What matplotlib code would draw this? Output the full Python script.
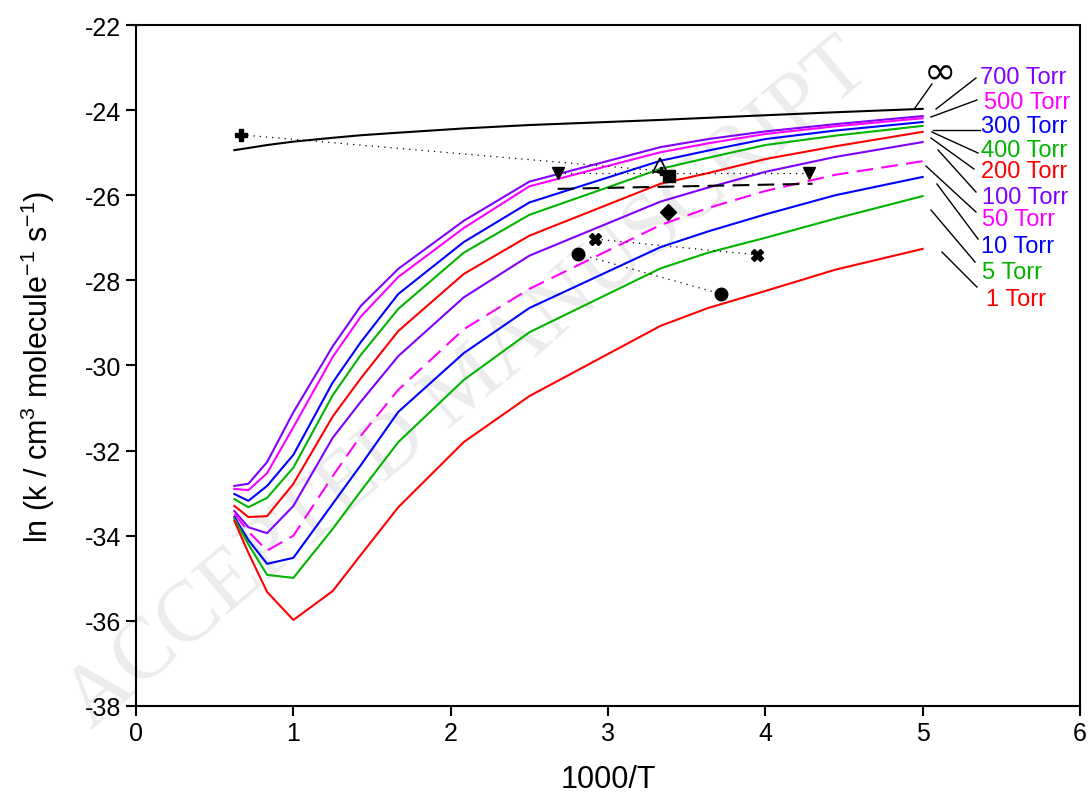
import matplotlib.pyplot as plt
import numpy as np

plt.rcParams['font.family'] = ['Liberation Sans', 'DejaVu Sans']
plt.rcParams['axes.unicode_minus'] = False
plt.rcParams['mathtext.fontset'] = 'custom'
plt.rcParams['mathtext.rm'] = 'Liberation Sans'
plt.rcParams['mathtext.it'] = 'Liberation Sans:italic'

# 1000/T grid of the computed curves
x_grid = [0.625, 0.714, 0.833, 1.0, 1.25, 1.429, 1.667, 2.083, 2.5, 3.333, 3.636, 4.0, 4.444, 5.0]

k_inf = [-24.94, -24.89, -24.82, -24.74, -24.65, -24.59, -24.53, -24.43, -24.35, -24.23, -24.18, -24.12, -24.05, -23.97]
k_700 = [-32.83, -32.78, -32.27, -31.1, -29.55, -28.6, -27.73, -26.6, -25.68, -24.87, -24.68, -24.5, -24.33, -24.14]
k_500 = [-32.9, -32.93, -32.53, -31.45, -29.8, -28.85, -27.92, -26.77, -25.79, -24.99, -24.78, -24.56, -24.38, -24.19]
k_300 = [-33.02, -33.18, -32.83, -32.1, -30.4, -29.45, -28.32, -27.1, -26.17, -25.19, -24.95, -24.68, -24.48, -24.28]
k_400 = [-33.14, -33.33, -33.11, -32.4, -30.7, -29.75, -28.67, -27.35, -26.46, -25.38, -25.12, -24.82, -24.6, -24.37]
k_200 = [-33.3, -33.56, -33.54, -32.78, -31.2, -30.3, -29.19, -27.85, -26.95, -25.73, -25.48, -25.15, -24.85, -24.51]
k_100 = [-33.42, -33.8, -33.94, -33.3, -31.7, -30.85, -29.78, -28.4, -27.42, -26.15, -25.82, -25.45, -25.1, -24.75]
k_50 = [-33.49, -33.9, -34.35, -34.0, -32.6, -31.65, -30.57, -29.15, -28.2, -26.7, -26.3, -25.9, -25.52, -25.2]
k_10 = [-33.56, -34.1, -34.66, -34.52, -33.25, -32.34, -31.09, -29.71, -28.65, -27.22, -26.85, -26.45, -26.0, -25.57]
k_5 = [-33.6, -34.2, -34.92, -34.99, -33.84, -32.95, -31.8, -30.34, -29.22, -27.72, -27.35, -27.0, -26.55, -26.02]
k_1 = [-33.65, -34.4, -35.32, -35.98, -35.3, -34.45, -33.33, -31.8, -30.72, -29.07, -28.65, -28.25, -27.75, -27.26]

# experimental points
plus_x, plus_y = [0.667, 3.34], [-24.58, -25.43]
tri_dn_x, tri_dn_y = [2.68, 4.28], [-25.48, -25.48]
tri_up_x, tri_up_y = [3.33], [-25.29]
sq_x, sq_y = [3.39], [-25.55]
dash_x, dash_y = [2.68, 4.3], [-25.85, -25.73]
dia_x, dia_y = [3.38], [-26.39]
cross_x, cross_y = [2.92, 3.95], [-27.03, -27.40]
circ_x, circ_y = [2.81, 3.72], [-27.38, -28.32]

purple = '#8000ff'
magenta = '#ff00ff'
blue = '#0000ff'
green = '#00b400'
red = '#ff0000'

labels = ['700 Torr', '500 Torr', '300 Torr', '400 Torr', '200 Torr',
          '100 Torr', '50 Torr', '10 Torr', '5 Torr', '1 Torr']
label_colors = [purple, magenta, blue, green, red, purple, magenta, blue, green, red]
label_x = [5.364, 5.39, 5.37, 5.37, 5.37, 5.38, 5.38, 5.37, 5.38, 5.40]
label_y = [-23.22, -23.81, -24.37, -24.94, -25.43, -26.04, -26.56, -27.19, -27.80, -28.44]
# leader lines: (label end, curve end)
leaders = [
    [(5.059, -23.386), (4.951, -23.95)],
    [(5.339, -23.245), (5.085, -23.974)],
    [(5.345, -23.762), (5.053, -24.162)],
    [(5.364, -24.467), (5.066, -24.467)],
    [(5.352, -25.008), (5.059, -24.514)],
    [(5.326, -25.383), (5.053, -24.655)],
    [(5.339, -25.924), (5.098, -24.937)],
    [(5.339, -26.394), (5.021, -25.313)],
    [(5.352, -27.028), (5.091, -25.736)],
    [(5.333, -27.569), (5.053, -26.347)],
    [(5.345, -28.156), (5.123, -27.334)],
]

fig = plt.figure(figsize=(10.9, 8.03), dpi=100)
ax = fig.add_axes([0.1248, 0.1196, 0.866, 0.848])
ax.patch.set_alpha(0)

# faint watermark, behind everything
fig.text(0.43, 0.52, 'ACCEPTED MANUSCRIPT', fontsize=62, color='#ececec',
         rotation=40, ha='center', va='center', family='Liberation Serif', zorder=-1)

lw = 1.5
ax.plot(x_grid, k_inf, color='black', lw=lw)
ax.plot(x_grid, k_700, color=purple, lw=lw)
ax.plot(x_grid, k_500, color=magenta, lw=lw)
ax.plot(x_grid, k_300, color=blue, lw=lw)
ax.plot(x_grid, k_400, color=green, lw=lw)
ax.plot(x_grid, k_200, color=red, lw=lw)
ax.plot(x_grid, k_100, color=purple, lw=lw)
ax.plot(x_grid, k_50, color=magenta, lw=lw, linestyle=(0, (8, 4)))
ax.plot(x_grid, k_10, color=blue, lw=lw)
ax.plot(x_grid, k_5, color=green, lw=lw)
ax.plot(x_grid, k_1, color=red, lw=lw)

dot = (0, (1, 4))
ax.plot(plus_x, plus_y, color='black', lw=0.9, linestyle=dot)
ax.plot(plus_x[:1], plus_y[:1], 'P', color='black', ms=8)
ax.plot(plus_x[1:], plus_y[1:], 'P', color='black', ms=6)
ax.plot(tri_dn_x, tri_dn_y, color='black', lw=0.9, linestyle=dot)
ax.plot(tri_dn_x, tri_dn_y, 'v', color='black', ms=9, linestyle='none')
ax.plot(tri_up_x, tri_up_y, '^', mfc='none', mec='black', mew=1.2, ms=10)
ax.plot(sq_x, sq_y, 's', color='black', ms=8)
ax.plot(dash_x, dash_y, color='black', lw=lw, linestyle=(0, (8, 4)))
ax.plot(dia_x, dia_y, 'D', color='black', ms=8)
ax.plot(cross_x, cross_y, color='black', lw=0.9, linestyle=dot)
ax.plot(cross_x, cross_y, 'X', color='black', ms=9, linestyle='none')
ax.plot(circ_x, circ_y, color='black', lw=0.9, linestyle=dot)
ax.plot(circ_x, circ_y, 'o', color='black', ms=9, linestyle='none')

for (p0, p1) in leaders:
    ax.plot([p0[0], p1[0]], [p0[1], p1[1]], color='black', lw=1.0, clip_on=False)

for txt, c, tx, ty in zip(labels, label_colors, label_x, label_y):
    ax.text(tx, ty, txt, color=c, fontsize=17, ha='left', va='center')
ax.text(5.11, -23.1, '\u221e', fontsize=28, ha='center', va='center',
        family=['DejaVu Sans'])

ax.set_xlim(0, 6)
ax.set_ylim(-38, -22)
ax.set_xticks(range(0, 7))
ax.set_yticks(np.arange(-38, -21, 2))
ax.tick_params(direction='out', length=7, width=1.5, labelsize=18)
for s in ax.spines.values():
    s.set_linewidth(1.5)
ax.set_xlabel('1000/T', fontsize=22, labelpad=14)
ax.set_ylabel('ln (k / cm$^3$ molecule$^{-1}$ s$^{-1}$)', fontsize=22, labelpad=20)

fig.savefig('out.png', dpi=100)
